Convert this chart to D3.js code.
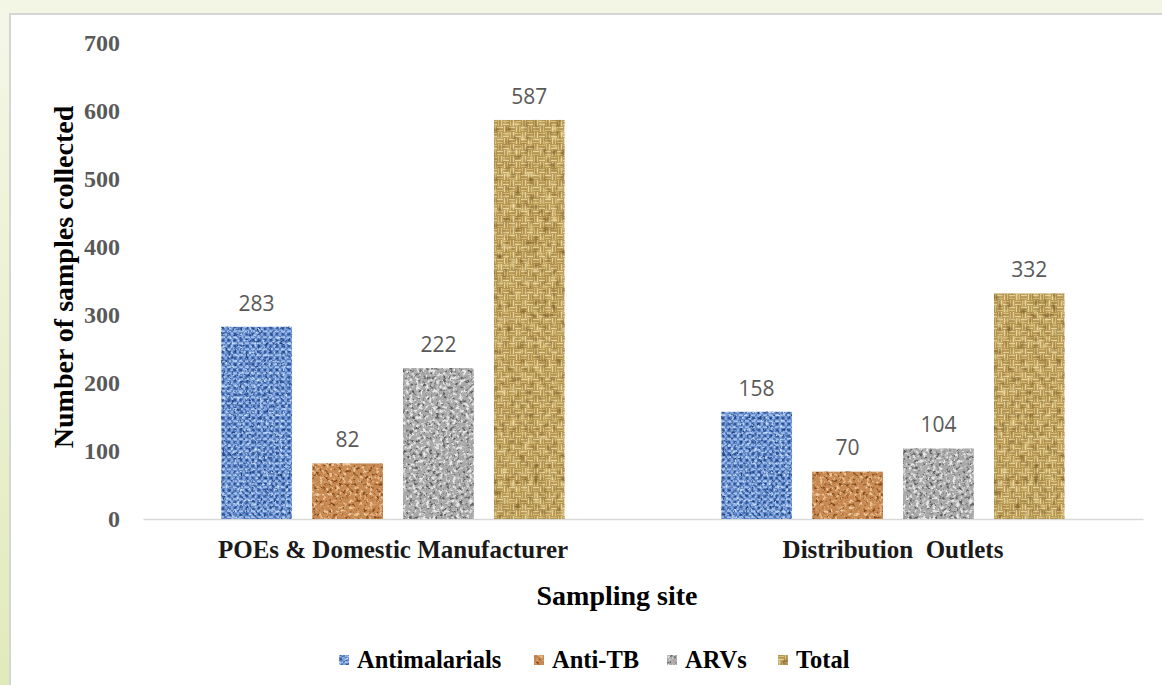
<!DOCTYPE html>
<html>
<head>
<meta charset="utf-8">
<script src="https://cdn.jsdelivr.net/npm/d3@7"></script>
<style>
  html, body { margin: 0; padding: 0; background: #f3f6e5; }
  svg { display: block; }
  text { white-space: pre; }
</style>
</head>
<body>
<svg id="chart" width="1162" height="685"></svg>
<script>
// Sampling sites and sample counts per medicine class
const categories = ["POEs & Domestic Manufacturer", "Distribution  Outlets"];
const seriesNames = ["Antimalarials", "Anti-TB", "ARVs", "Total"];
const antimalarials = [283, 158];
const antiTB = [82, 70];
const arvs = [222, 104];
const total = [587, 332];
const yTicks = [0, 100, 200, 300, 400, 500, 600, 700];

const seriesValues = [antimalarials, antiTB, arvs, total];
const rows = categories.map((c, i) => ({
  category: c,
  values: seriesNames.map((s, j) => ({ key: s, value: seriesValues[j][i] }))
}));

const W = 1162, H = 685;
const svg = d3.select("#chart");
const defs = svg.append("defs");

// ---- page background and white panel ----
const bg = defs.append("linearGradient").attr("id", "pageBg")
  .attr("x1", 0).attr("y1", 0).attr("x2", 0).attr("y2", 1);
bg.append("stop").attr("offset", "0%").attr("stop-color", "#f4f7e7");
bg.append("stop").attr("offset", "100%").attr("stop-color", "#e1eabb");
svg.append("rect").attr("width", W).attr("height", H).attr("fill", "url(#pageBg)");
svg.append("rect").attr("x", 0).attr("y", 0).attr("width", W).attr("height", 14).attr("fill", "#f3f6e5");
svg.append("rect").attr("x", 9).attr("y", 13).attr("width", W).attr("height", H).attr("fill", "#d5d5d5");
svg.append("rect").attr("x", 11).attr("y", 15).attr("width", W).attr("height", H).attr("fill", "#ffffff");

// ---- textured fills: a base weave pattern plus turbulence speckle ----
function texture(key, cfg) {
  const pat = defs.append("pattern").attr("id", "pat-" + key)
    .attr("patternUnits", "userSpaceOnUse")
    .attr("width", cfg.tile).attr("height", cfg.tile);
  pat.append("rect").attr("width", cfg.tile).attr("height", cfg.tile).attr("fill", cfg.base);
  (cfg.strands || []).forEach(s => {
    pat.append("rect").attr("x", s[0]).attr("y", s[1]).attr("width", s[2]).attr("height", s[3]).attr("fill", s[4]);
  });

  const f = defs.append("filter").attr("id", "tex-" + key)
    .attr("x", 0).attr("y", 0).attr("width", 1).attr("height", 1)
    .attr("color-interpolation-filters", "sRGB");
  f.append("feGaussianBlur").attr("in", "SourceGraphic").attr("stdDeviation", cfg.blur).attr("result", "base");
  f.append("feTurbulence").attr("type", "fractalNoise")
    .attr("baseFrequency", cfg.freq).attr("numOctaves", cfg.octaves).attr("seed", cfg.seed)
    .attr("result", "noise");
  const dk = d3.color(cfg.dark), lt = d3.color(cfg.light);
  const k = cfg.k;
  f.append("feColorMatrix").attr("in", "noise").attr("type", "matrix")
    .attr("values", `0 0 0 0 ${dk.r / 255} 0 0 0 0 ${dk.g / 255} 0 0 0 0 ${dk.b / 255} ${-k} 0 0 0 ${k * cfg.tDark}`)
    .attr("result", "dk0");
  f.append("feGaussianBlur").attr("in", "dk0").attr("stdDeviation", cfg.noiseBlur).attr("result", "dk");
  f.append("feColorMatrix").attr("in", "noise").attr("type", "matrix")
    .attr("values", `0 0 0 0 ${lt.r / 255} 0 0 0 0 ${lt.g / 255} 0 0 0 0 ${lt.b / 255} 0 ${k} 0 0 ${-k * cfg.tLight}`)
    .attr("result", "lt0");
  f.append("feGaussianBlur").attr("in", "lt0").attr("stdDeviation", cfg.noiseBlur).attr("result", "lt");
  const m = f.append("feMerge").attr("result", "merged");
  m.append("feMergeNode").attr("in", "base");
  m.append("feMergeNode").attr("in", "dk");
  m.append("feMergeNode").attr("in", "lt");
  f.append("feComposite").attr("in", "merged").attr("in2", "SourceGraphic").attr("operator", "in");
}

texture("Antimalarials", {
  tile: 6, base: "#5882c6",
  strands: [
    [0, 0.3, 4, 1.8, "#9fbeec"],
    [4.2, 2.3, 1.6, 3.4, "#93b3e6"],
    [0.8, 3, 2.2, 2.2, "#33599c"]
  ],
  blur: 0.5, freq: 0.35, octaves: 2, seed: 3, noiseBlur: 0.4,
  dark: "#1d3f7e", light: "#c6dbf7", k: 4.5, tDark: 0.44, tLight: 0.55
});
texture("Anti-TB", {
  tile: 8, base: "#c88a52", strands: [],
  blur: 0.3, freq: 0.3, octaves: 3, seed: 7, noiseBlur: 0.5,
  dark: "#7f4516", light: "#eec79b", k: 4.5, tDark: 0.46, tLight: 0.52
});
texture("ARVs", {
  tile: 8, base: "#a9a9a9", strands: [],
  blur: 0.3, freq: 0.3, octaves: 3, seed: 11, noiseBlur: 0.5,
  dark: "#585858", light: "#e9e9e9", k: 4.5, tDark: 0.47, tLight: 0.49
});
texture("Total", {
  tile: 12, base: "#8e6a2b",
  strands: [
    // horizontal block (top-left)
    [0, 0.5, 6, 2.0, "#d9bd74"], [0, 3.5, 6, 2.0, "#ead496"],
    // vertical block (top-right)
    [6.5, 0, 2.0, 6, "#d9bd74"], [9.5, 0, 2.0, 6, "#ead496"],
    // vertical block (bottom-left)
    [0.5, 6, 2.0, 6, "#ead496"], [3.5, 6, 2.0, 6, "#d9bd74"],
    // horizontal block (bottom-right)
    [6, 6.5, 6, 2.0, "#ead496"], [6, 9.5, 6, 2.0, "#d9bd74"]
  ],
  blur: 0.6, freq: 0.22, octaves: 2, seed: 5, noiseBlur: 0.8,
  dark: "#6a4a16", light: "#f6e4a8", k: 3.5, tDark: 0.45, tLight: 0.55
});

// ---- scales ----
const plot = { left: 143, right: 1143, top: 43, bottom: 519 };
const x0 = d3.scaleBand().domain(categories).range([plot.left, plot.right]).padding(0);
const x1 = d3.scaleBand().domain(seriesNames).range([0, x0.bandwidth()])
  .paddingInner(0.22).paddingOuter(0.86);
const y = d3.scaleLinear().domain([0, 700]).range([plot.bottom, plot.top]);

const serif = "'Liberation Serif', 'Times New Roman', serif";

// ---- y axis (labels only) ----
const yAxis = svg.append("g").attr("transform", "translate(120,0)")
  .call(d3.axisLeft(y).tickValues(yTicks).tickSize(0).tickPadding(0));
yAxis.select(".domain").remove();
yAxis.selectAll("text")
  .attr("font-family", serif).attr("font-weight", "bold").attr("font-size", 24)
  .attr("fill", "#595959").attr("dy", "0.33em");

// ---- x axis ----
const xAxis = svg.append("g").attr("transform", `translate(0,${plot.bottom})`)
  .call(d3.axisBottom(x0).tickSize(0).tickSizeOuter(0).tickPadding(21));
xAxis.select(".domain").attr("stroke", "#d9d9d9").attr("stroke-width", 1.5);
xAxis.selectAll("text")
  .attr("font-family", serif).attr("font-weight", "bold").attr("font-size", 25)
  .attr("fill", "#1a1a1a");

// ---- bars ----
const groups = svg.append("g").selectAll("g").data(rows).join("g")
  .attr("transform", d => `translate(${x0(d.category)},0)`);

groups.selectAll("rect").data(d => d.values).join("rect")
  .attr("x", d => x1(d.key))
  .attr("y", d => y(d.value))
  .attr("width", x1.bandwidth())
  .attr("height", d => y(0) - y(d.value))
  .attr("fill", d => `url(#pat-${d.key})`)
  .attr("filter", d => `url(#tex-${d.key})`);

groups.selectAll("text.value").data(d => d.values).join("text")
  .attr("class", "value")
  .attr("x", d => x1(d.key) + x1.bandwidth() / 2)
  .attr("y", d => y(d.value) - 16)
  .attr("text-anchor", "middle")
  .attr("font-family", "'Open Sans', 'Liberation Sans', sans-serif")
  .attr("font-size", 21)
  .attr("fill", "#595959")
  .text(d => d.value);

// ---- axis titles ----
svg.append("text")
  .attr("transform", "translate(73,277) rotate(-90)")
  .attr("text-anchor", "middle")
  .attr("font-family", serif).attr("font-weight", "bold").attr("font-size", 28)
  .attr("fill", "#000")
  .text("Number of samples collected");

svg.append("text")
  .attr("x", 617).attr("y", 605)
  .attr("text-anchor", "middle")
  .attr("font-family", serif).attr("font-weight", "bold").attr("font-size", 28)
  .attr("fill", "#000")
  .text("Sampling site");

// ---- legend ----
const legendX = [339, 534, 667, 778];
const legend = svg.append("g").selectAll("g").data(seriesNames).join("g")
  .attr("transform", (d, i) => `translate(${legendX[i]},655)`);
legend.append("rect")
  .attr("width", 10).attr("height", 10)
  .attr("fill", d => `url(#pat-${d})`)
  .attr("filter", d => `url(#tex-${d})`);
legend.append("text")
  .attr("x", 18).attr("y", 12.5)
  .attr("font-family", serif).attr("font-weight", "bold").attr("font-size", 24.5)
  .attr("fill", "#000")
  .text(d => d);
</script>
</body>
</html>
